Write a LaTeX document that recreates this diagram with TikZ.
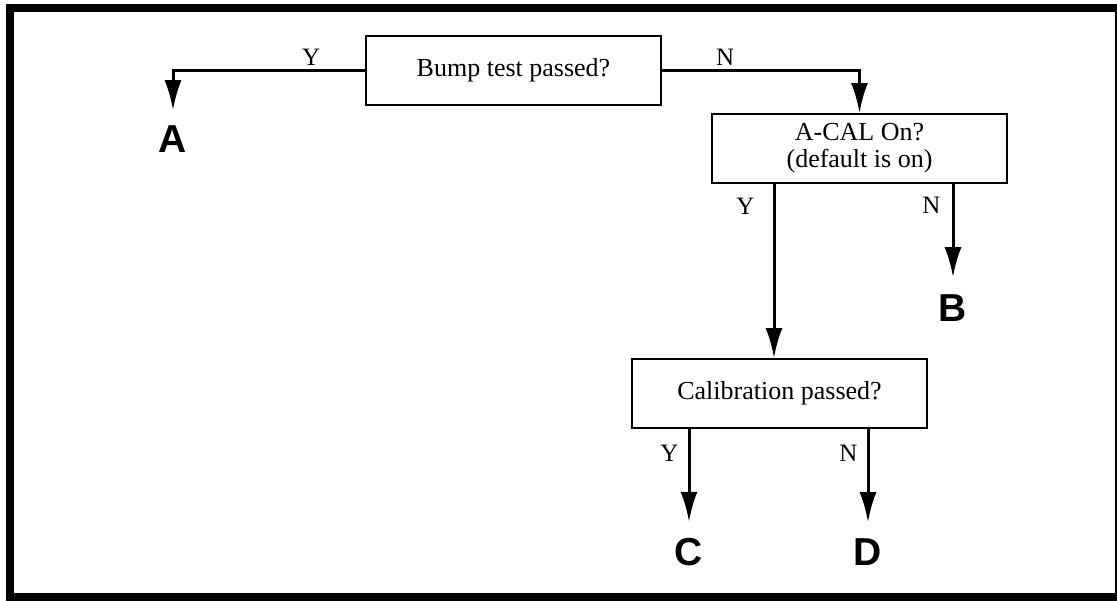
\documentclass[tikz,border=0pt]{standalone}
\usepackage{fontspec}
\setmainfont{Liberation Serif}
\newfontfamily\lettersans{Liberation Sans}
\usetikzlibrary{arrows.meta}

\begin{document}
\begin{tikzpicture}[x=.5pt,y=-.5pt,>={Latex[length=15pt,width=8.5pt]},
      test/.style={draw,line width=1pt,minimum width=147.5pt,minimum height=34.5pt,
                   align=center,font=\fontsize{13pt}{13.5pt}\selectfont},
      outcome/.style={inner sep=0pt,font=\lettersans\bfseries\fontsize{19.5pt}{20pt}\selectfont},
      flow/.style={->,line width=1.5pt},
      answer/.style={inner sep=2pt,font=\fontsize{12.5pt}{13pt}\selectfont}]
    \useasboundingbox (0,0) rectangle (1117,600);
    \draw[line width=4pt] (10,8) rectangle (1119,597);
    \node[test] (bump) at (513.5,70.5) {Bump test passed?};
    \node[test] (acal) at (859.5,148.5) {A-CAL On?\\(default is on)};
    \node[test] (calib) at (779.5,393.5) {Calibration passed?};
    \node[outcome] (A) at (173,139) {A};
    \node[outcome] (B) at (953,308) {B};
    \node[outcome] (C) at (689,552) {C};
    \node[outcome] (D) at (868,552) {D};
    \draw[flow] (bump.west) -| node[answer,above,pos=.14] {Y} ([yshift=7.5pt]A.north);
    \draw[flow] (bump.east) -| node[answer,above,pos=.16] {N} (acal.north);
    \draw[flow] ([xshift=-42.75pt]acal.south) -- node[answer,left=7pt,pos=.13] {Y} ([xshift=-2.75pt]calib.north);
    \draw[flow] ([xshift=46.75pt]acal.south) -- node[answer,left=3.5pt,pos=.23] {N} ([yshift=8.5pt]B.north);
    \draw[flow] ([xshift=-45.25pt]calib.south) -- node[answer,left=2.5pt,pos=.26] {Y} ([yshift=8pt]C.north);
    \draw[flow] ([xshift=44.25pt]calib.south) -- node[answer,left=2.5pt,pos=.26] {N} ([yshift=8pt]D.north);
\end{tikzpicture}
\end{document}
